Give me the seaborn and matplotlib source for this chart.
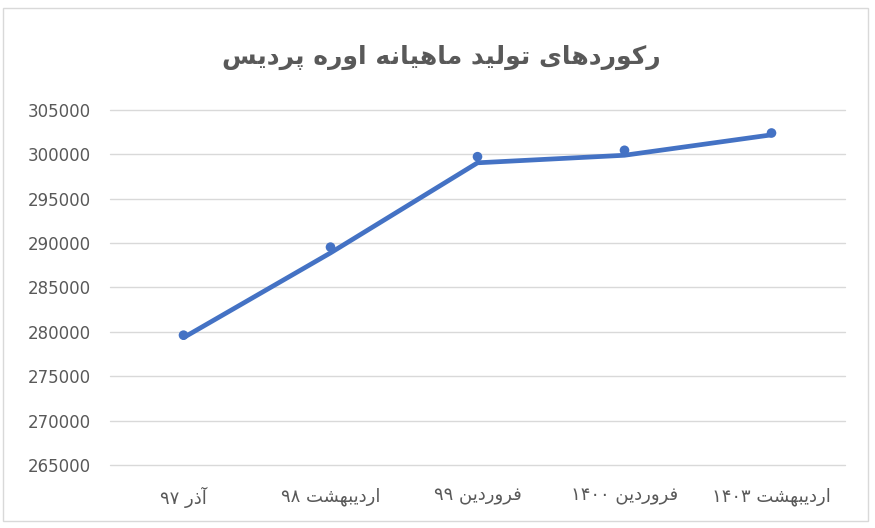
"""Monthly urea production records chart (Pardis), redrawn with seaborn."""

import matplotlib
matplotlib.use('Agg')
# matplotlib for figure handling
import matplotlib.pyplot as plt
from matplotlib.patches import Rectangle
# pandas for the small data table
import pandas as pd
# seaborn for the line and markers
import seaborn as sns

title = "رکوردهای تولید ماهیانه اوره پردیس"
categories = ["آذر ۹۷", "اردیبهشت ۹۸", "فروردین ۹۹", "فروردین ۱۴۰۰", "اردیبهشت ۱۴۰۳"]
# values of the drawn line and of the dot markers
line_values = [279350, 288900, 299050, 299900, 302200]
marker_values = [279630, 289550, 299740, 300460, 302410]
y_ticks = [265000, 270000, 275000, 280000, 285000, 290000, 295000, 300000, 305000]

# presentation forms: isolated, final, initial, medial (None = right-joining only)
FORMS = {
    'ا': (0xFE8D, 0xFE8E, None, None),
    'آ': (0xFE81, 0xFE82, None, None),
    'ب': (0xFE8F, 0xFE90, 0xFE91, 0xFE92),
    'پ': (0xFB56, 0xFB57, 0xFB58, 0xFB59),
    'ت': (0xFE95, 0xFE96, 0xFE97, 0xFE98),
    'د': (0xFEA9, 0xFEAA, None, None),
    'ذ': (0xFEAB, 0xFEAC, None, None),
    'ر': (0xFEAD, 0xFEAE, None, None),
    'س': (0xFEB1, 0xFEB2, 0xFEB3, 0xFEB4),
    'ش': (0xFEB5, 0xFEB6, 0xFEB7, 0xFEB8),
    'ف': (0xFED1, 0xFED2, 0xFED3, 0xFED4),
    'ک': (0xFB8E, 0xFB8F, 0xFB90, 0xFB91),
    'ل': (0xFEDD, 0xFEDE, 0xFEDF, 0xFEE0),
    'م': (0xFEE1, 0xFEE2, 0xFEE3, 0xFEE4),
    'ن': (0xFEE5, 0xFEE6, 0xFEE7, 0xFEE8),
    'ه': (0xFEE9, 0xFEEA, 0xFEEB, 0xFEEC),
    'و': (0xFEED, 0xFEEE, None, None),
    'ی': (0xFBFC, 0xFBFD, 0xFBFE, 0xFBFF),
}


def shape_word(word):
    """Join the letters of one Persian word and return it in visual order."""
    out = []
    for i, ch in enumerate(word):
        if ch not in FORMS:
            out.append(ch)
            continue
        prev = word[i - 1] if i > 0 else None
        nxt = word[i + 1] if i + 1 < len(word) else None
        joins_prev = prev in FORMS and FORMS[prev][2] is not None
        joins_next = FORMS[ch][2] is not None and nxt in FORMS
        iso, fin, ini, med = FORMS[ch]
        if joins_prev and joins_next:
            code = med
        elif joins_next:
            code = ini
        elif joins_prev:
            code = fin
        else:
            code = iso
        out.append(chr(code))
    if word and word[0] in FORMS:
        return ''.join(reversed(out))
    return ''.join(out)


def rtl(text):
    """Right-to-left visual string for matplotlib."""
    return ' '.join(shape_word(w) for w in reversed(text.split(' ')))


df = pd.DataFrame({'period': categories, 'line': line_values,
                   'marker': marker_values})

sns.set_style('white')
plt.rcParams['font.family'] = ['DejaVu Sans']

fig = plt.figure(figsize=(8.75, 5.28), dpi=100)
ax = fig.add_axes([110 / 875, 1 - 465 / 528, 735 / 875, 355 / 528])

sns.scatterplot(data=df, x='period', y='marker', ax=ax, color='#4472C4',
                s=48, edgecolor='none', zorder=2)
sns.lineplot(data=df, x='period', y='line', ax=ax, color='#4472C4',
             linewidth=3.4, zorder=3, solid_capstyle='round')

ax.set_xlim(-0.5, len(categories) - 0.5)
ax.set_ylim(265000, 305000)
ax.set_yticks(y_ticks)
ax.set_yticklabels([str(v) for v in y_ticks])
ax.set_xticks(range(len(categories)))
ax.set_xticklabels([rtl(c) for c in categories])
ax.grid(axis='y', color='#D9D9D9', linewidth=1.0)
for gl in ax.get_ygridlines():
    gl.set_clip_on(False)
ax.set_axisbelow(True)
for side in ['top', 'right', 'left', 'bottom']:
    ax.spines[side].set_visible(False)
ax.tick_params(axis='y', length=0, pad=14, labelsize=12, labelcolor='#595959')
ax.tick_params(axis='x', length=0, pad=16, labelsize=13, labelcolor='#595959')
ax.set_xlabel('')
ax.set_ylabel('')

fig.text(441 / 875, 1 - 57 / 528, rtl(title), ha='center', va='center',
         fontsize=18, fontweight='bold', color='#595959')

fig.patches.append(Rectangle((3 / 875, 1 - 521 / 528), 865 / 875, 513 / 528,
                             transform=fig.transFigure, fill=False,
                             edgecolor='#D9D9D9', linewidth=1.0))

fig.savefig('out.png', dpi=100)
